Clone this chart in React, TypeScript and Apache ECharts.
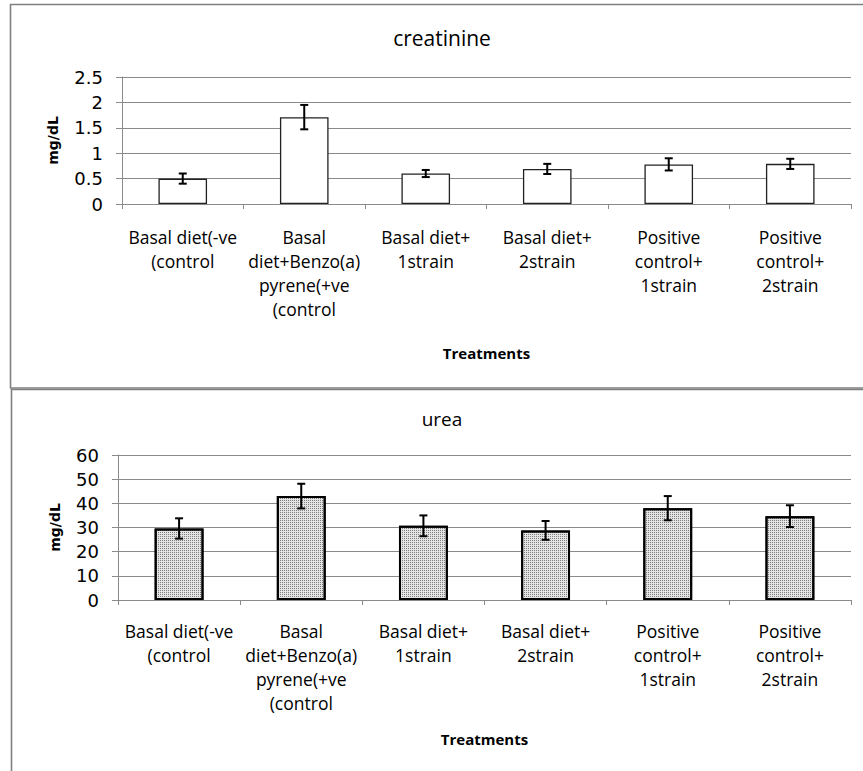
import React, { useEffect, useRef } from "react";
import * as echarts from "echarts";

// Treatment groups shared by both panels
const treatments = [
  "Basal diet(-ve\n(control",
  "Basal\ndiet+Benzo(a)\npyrene(+ve\n(control",
  "Basal diet+\n1strain",
  "Basal diet+\n2strain",
  "Positive\ncontrol+\n1strain",
  "Positive\ncontrol+\n2strain",
];

// Creatinine (mg/dL): means and error half-widths
const creatinineMean = [0.5, 1.71, 0.6, 0.69, 0.78, 0.79];
const creatinineErr = [0.1, 0.24, 0.07, 0.1, 0.12, 0.1];

// Urea (mg/dL): means and error half-widths
const ureaMean = [29.6, 43.0, 30.7, 28.8, 38.0, 34.7];
const ureaErr = [4.2, 5.1, 4.3, 3.9, 5.0, 4.5];

const creatinineTicks = { min: 0, max: 2.5, interval: 0.5 };
const ureaTicks = { min: 0, max: 60, interval: 10 };

const GRID_COLOR = "#8a8a8a";
const LABEL_FONT = "'Open Sans', 'Noto Sans', sans-serif";
const TICK_FONT = "'DejaVu Sans', 'Liberation Sans', sans-serif";

function errorBarSeries(gridIndex: number, mean: number[], err: number[]) {
  return {
    type: "custom",
    xAxisIndex: gridIndex,
    yAxisIndex: gridIndex,
    data: mean.map((m, i) => [i, m - err[i], m + err[i]]),
    z: 10,
    renderItem: (params: any, api: any) => {
      const idx = api.value(0);
      const lo = api.coord([idx, api.value(1)]);
      const hi = api.coord([idx, api.value(2)]);
      const half = 4;
      const style = { stroke: "#000", lineWidth: 2 };
      return {
        type: "group",
        children: [
          { type: "line", shape: { x1: lo[0], y1: lo[1], x2: hi[0], y2: hi[1] }, style },
          { type: "line", shape: { x1: hi[0] - half, y1: hi[1], x2: hi[0] + half, y2: hi[1] }, style },
          { type: "line", shape: { x1: lo[0] - half, y1: lo[1], x2: lo[0] + half, y2: lo[1] }, style },
        ],
      };
    },
  };
}

function xAxisFor(gridIndex: number, labelMargin: number, nameGap: number) {
  return {
    type: "category",
    gridIndex,
    data: treatments,
    name: "Treatments",
    nameLocation: "middle",
    nameGap,
    nameTextStyle: {
      fontFamily: LABEL_FONT,
      fontWeight: "bold",
      fontSize: 15,
      color: "#000",
      verticalAlign: "top",
    },
    axisLine: { lineStyle: { color: GRID_COLOR, width: 1 } },
    axisTick: { show: true, length: 5, lineStyle: { color: GRID_COLOR } },
    axisLabel: {
      interval: 0,
      margin: labelMargin,
      fontFamily: LABEL_FONT,
      fontSize: 17.5,
      lineHeight: 24,
      color: "#000",
      align: "center",
    },
  };
}

function yAxisFor(gridIndex: number, ticks: any, nameGap: number) {
  return {
    type: "value",
    gridIndex,
    min: ticks.min,
    max: ticks.max,
    interval: ticks.interval,
    name: "mg/dL",
    nameLocation: "middle",
    nameGap,
    nameRotate: 90,
    nameTextStyle: {
      fontFamily: TICK_FONT,
      fontWeight: "bold",
      fontSize: 14,
      color: "#000",
    },
    axisLine: { show: true, lineStyle: { color: GRID_COLOR, width: 1 } },
    axisTick: { show: true, length: 6, lineStyle: { color: GRID_COLOR } },
    splitLine: { show: true, lineStyle: { color: GRID_COLOR, width: 1 } },
    axisLabel: {
      margin: 19,
      fontFamily: TICK_FONT,
      fontSize: 18,
      color: "#000",
    },
  };
}

export default function App() {
  const ref = useRef<HTMLDivElement>(null);

  useEffect(() => {
    if (!ref.current) return;
    const chart = echarts.init(ref.current, null, { renderer: "svg" });

    const option = {
      animation: false,
      backgroundColor: "#fff",
      grid: [
        { left: 122, right: 12, top: 77, height: 127 },
        { left: 118, right: 12, top: 455, height: 145 },
      ],
      xAxis: [xAxisFor(0, 21, 141), xAxisFor(1, 19, 131)],
      yAxis: [yAxisFor(0, creatinineTicks, 62), yAxisFor(1, ureaTicks, 56)],
      graphic: [
        {
          type: "rect",
          shape: { x: 10.5, y: 4.5, width: 900, height: 383.5 },
          style: { fill: "none", stroke: "#808080", lineWidth: 1.6 },
          z: 100,
        },
        {
          type: "rect",
          shape: { x: 11.5, y: 389.5, width: 900, height: 420 },
          style: { fill: "none", stroke: "#808080", lineWidth: 1.6 },
          z: 100,
        },
        {
          type: "text",
          x: 442,
          y: 38,
          style: {
            text: "creatinine",
            fontFamily: LABEL_FONT,
            fontSize: 21,
            fill: "#000",
            align: "center",
            verticalAlign: "middle",
          },
        },
        {
          type: "text",
          x: 442,
          y: 419,
          style: {
            text: "urea",
            fontFamily: LABEL_FONT,
            fontSize: 19,
            fill: "#000",
            align: "center",
            verticalAlign: "middle",
          },
        },
      ],
      series: [
        {
          type: "bar",
          xAxisIndex: 0,
          yAxisIndex: 0,
          data: creatinineMean,
          barWidth: "40%",
          itemStyle: { color: "#fff", borderColor: "#222", borderWidth: 1.3 },
        },
        errorBarSeries(0, creatinineMean, creatinineErr),
        {
          type: "bar",
          xAxisIndex: 1,
          yAxisIndex: 1,
          data: ureaMean,
          barWidth: "40%",
          itemStyle: {
            color: "#e4e4e4",
            borderColor: "#000",
            borderWidth: 2,
            decal: {
              symbol: "rect",
              symbolSize: 1,
              dashArrayX: [1, 1],
              dashArrayY: [1, 1],
              color: "rgba(0,0,0,0.45)",
            },
          },
        },
        errorBarSeries(1, ureaMean, ureaErr),
      ],
    };

    chart.setOption(option as any);
    return () => chart.dispose();
  }, []);

  return (
    <div
      ref={ref}
      style={{ position: "fixed", left: 0, top: 0, width: 863, height: 771, background: "#fff" }}
    />
  );
}
